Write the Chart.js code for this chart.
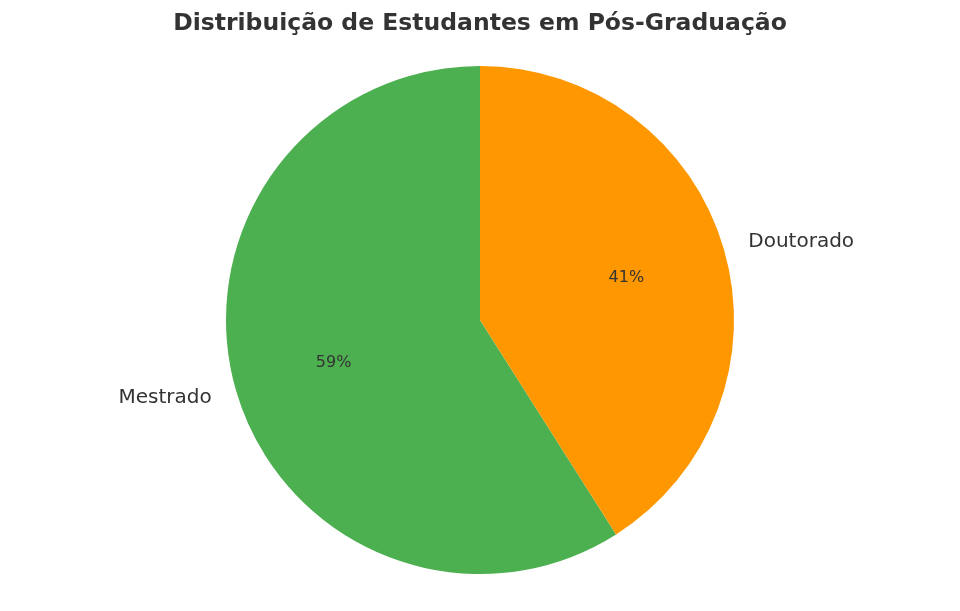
<!DOCTYPE html>
<html lang="pt">
<head>
<meta charset="utf-8">
<title>Distribuição de Estudantes em Pós-Graduação</title>
<script src="https://cdn.jsdelivr.net/npm/chart.js@4/dist/chart.umd.min.js"></script>
<style>
  html, body { margin: 0; padding: 0; background: #fff; }
  #wrap { width: 960px; height: 611px; }
</style>
</head>
<body>
<div id="wrap"><canvas id="pieChart"></canvas></div>
<script>
// Data
const categories = ["Mestrado", "Doutorado"];
const shares = [59, 41];
const sliceColors = ["#4CAF50", "#FF9800"];

const total = shares.reduce((a, b) => a + b, 0);

// Labels outside the slices and percentages inside (matplotlib-style)
const sliceLabels = {
  id: "sliceLabels",
  afterDatasetsDraw(chart) {
    const ctx = chart.ctx;
    const arcs = chart.getDatasetMeta(0).data;
    ctx.save();
    ctx.fillStyle = "#333333";
    ctx.textBaseline = "middle";
    arcs.forEach((arc, i) => {
      const mid = (arc.startAngle + arc.endAngle) / 2;
      const r = arc.outerRadius;
      const cx = Math.cos(mid), cy = Math.sin(mid);

      // category label at 1.1 r
      ctx.font = "20px 'DejaVu Sans', sans-serif";
      ctx.textAlign = cx >= 0 ? "left" : "right";
      ctx.fillText(categories[i], arc.x + cx * r * 1.1, arc.y + cy * r * 1.1);

      // percent at 0.6 r
      ctx.font = "16px 'DejaVu Sans', sans-serif";
      ctx.textAlign = "center";
      const pct = Math.round(shares[i] / total * 100) + "%";
      ctx.fillText(pct, arc.x + cx * r * 0.6, arc.y + cy * r * 0.6);
    });
    ctx.restore();
  }
};

const ctx = document.getElementById("pieChart").getContext("2d");
const pieChart = new Chart(ctx, {
  type: "pie",
  data: {
    labels: categories,
    datasets: [
      {
        data: shares,
        backgroundColor: sliceColors,
        borderWidth: 0,
      },
    ],
  },
  options: {
    responsive: true,
    maintainAspectRatio: false,
    animation: false,
    rotation: -360 * shares[0] / total,
    layout: {
      padding: { top: 0, bottom: 37, left: 0, right: 0 },
    },
    plugins: {
      legend: { display: false },
      tooltip: { enabled: false },
      title: {
        display: true,
        text: "Distribuição de Estudantes em Pós-Graduação",
        color: "#333333",
        font: { family: "'DejaVu Sans', sans-serif", size: 23.5, weight: "bold", lineHeight: 1.2 },
        padding: { top: 9.9, bottom: 27.9 },
      },
    },
  },
  plugins: [sliceLabels],
});
</script>
</body>
</html>
